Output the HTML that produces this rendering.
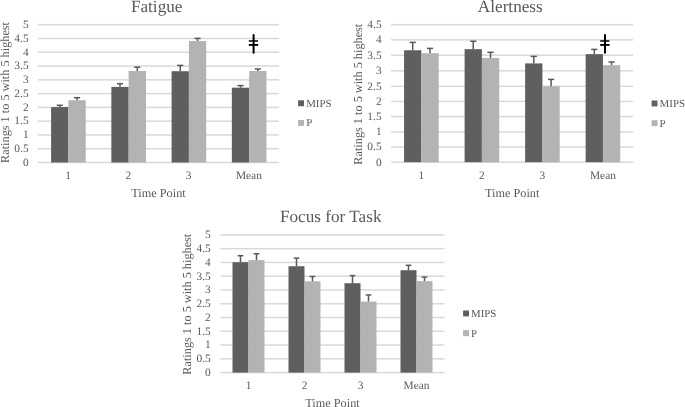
<!DOCTYPE html>
<html><head><meta charset="utf-8"><style>
html,body{margin:0;padding:0;background:#fff;}
body{width:685px;height:407px;overflow:hidden;}
svg{display:block;will-change:transform;filter:blur(0.3px);}
text{font-family:"Liberation Serif", serif;fill:#595959;text-rendering:geometricPrecision;}
</style></head><body>
<svg width="685" height="407" viewBox="0 0 685 407">
<rect width="685" height="407" fill="#fff"/>
<rect x="38.00" y="161.75" width="241.00" height="1.5" fill="#d9d9d9"/>
<rect x="38.00" y="147.97" width="241.00" height="1.5" fill="#d9d9d9"/>
<rect x="38.00" y="134.19" width="241.00" height="1.5" fill="#d9d9d9"/>
<rect x="38.00" y="120.41" width="241.00" height="1.5" fill="#d9d9d9"/>
<rect x="38.00" y="106.63" width="241.00" height="1.5" fill="#d9d9d9"/>
<rect x="38.00" y="92.85" width="241.00" height="1.5" fill="#d9d9d9"/>
<rect x="38.00" y="79.07" width="241.00" height="1.5" fill="#d9d9d9"/>
<rect x="38.00" y="65.29" width="241.00" height="1.5" fill="#d9d9d9"/>
<rect x="38.00" y="51.51" width="241.00" height="1.5" fill="#d9d9d9"/>
<rect x="38.00" y="37.73" width="241.00" height="1.5" fill="#d9d9d9"/>
<rect x="38.00" y="23.95" width="241.00" height="1.5" fill="#d9d9d9"/>
<text x="28.60" y="165.80" font-size="11.4" text-anchor="end">0</text>
<text x="28.60" y="152.02" font-size="11.4" text-anchor="end">0.5</text>
<text x="28.60" y="138.24" font-size="11.4" text-anchor="end">1</text>
<text x="28.60" y="124.46" font-size="11.4" text-anchor="end">1.5</text>
<text x="28.60" y="110.68" font-size="11.4" text-anchor="end">2</text>
<text x="28.60" y="96.90" font-size="11.4" text-anchor="end">2.5</text>
<text x="28.60" y="83.12" font-size="11.4" text-anchor="end">3</text>
<text x="28.60" y="69.34" font-size="11.4" text-anchor="end">3.5</text>
<text x="28.60" y="55.56" font-size="11.4" text-anchor="end">4</text>
<text x="28.60" y="41.78" font-size="11.4" text-anchor="end">4.5</text>
<text x="28.60" y="28.00" font-size="11.4" text-anchor="end">5</text>
<rect x="51.10" y="107.10" width="17.30" height="55.40" fill="#5f5f5f"/>
<rect x="68.40" y="100.20" width="17.30" height="62.30" fill="#b3b3b3"/>
<rect x="59.00" y="105.30" width="1.5" height="1.80" fill="#595959"/>
<rect x="56.65" y="104.55" width="6.20" height="1.5" fill="#595959"/>
<rect x="76.30" y="97.70" width="1.5" height="2.50" fill="#595959"/>
<rect x="73.95" y="96.95" width="6.20" height="1.5" fill="#595959"/>
<text x="68.12" y="178.60" font-size="11.4" text-anchor="middle">1</text>
<rect x="111.35" y="86.90" width="17.30" height="75.60" fill="#5f5f5f"/>
<rect x="128.65" y="71.00" width="17.30" height="91.50" fill="#b3b3b3"/>
<rect x="119.25" y="83.70" width="1.5" height="3.20" fill="#595959"/>
<rect x="116.90" y="82.95" width="6.20" height="1.5" fill="#595959"/>
<rect x="136.55" y="67.20" width="1.5" height="3.80" fill="#595959"/>
<rect x="134.20" y="66.45" width="6.20" height="1.5" fill="#595959"/>
<text x="128.38" y="178.60" font-size="11.4" text-anchor="middle">2</text>
<rect x="171.60" y="71.20" width="17.30" height="91.30" fill="#5f5f5f"/>
<rect x="188.90" y="41.05" width="17.30" height="121.45" fill="#b3b3b3"/>
<rect x="179.50" y="65.40" width="1.5" height="5.80" fill="#595959"/>
<rect x="177.15" y="64.65" width="6.20" height="1.5" fill="#595959"/>
<rect x="196.80" y="38.40" width="1.5" height="2.65" fill="#595959"/>
<rect x="194.45" y="37.65" width="6.20" height="1.5" fill="#595959"/>
<text x="188.62" y="178.60" font-size="11.4" text-anchor="middle">3</text>
<rect x="231.85" y="87.70" width="17.30" height="74.80" fill="#5f5f5f"/>
<rect x="249.15" y="71.00" width="17.30" height="91.50" fill="#b3b3b3"/>
<rect x="239.75" y="85.60" width="1.5" height="2.10" fill="#595959"/>
<rect x="237.40" y="84.85" width="6.20" height="1.5" fill="#595959"/>
<rect x="257.05" y="69.00" width="1.5" height="2.00" fill="#595959"/>
<rect x="254.70" y="68.25" width="6.20" height="1.5" fill="#595959"/>
<text x="248.88" y="178.60" font-size="11.4" text-anchor="middle">Mean</text>
<text x="156.70" y="11.90" font-size="17.2" text-anchor="middle">Fatigue</text>
<text x="158.50" y="196.60" font-size="12.25" text-anchor="middle">Time Point</text>
<text transform="translate(9.00,92.45) rotate(-90)" x="0" y="0" font-size="12.25" text-anchor="middle">Ratings 1 to 5 with 5 highest</text>
<rect x="298.10" y="100.30" width="5.9" height="5.9" fill="#5f5f5f"/>
<rect x="298.10" y="120.00" width="5.9" height="5.9" fill="#b3b3b3"/>
<text x="306.20" y="106.70" font-size="10.9">MIPS</text>
<text x="306.20" y="126.40" font-size="10.9">P</text>
<g stroke="#000" fill="none"><line x1="253.60" y1="35.00" x2="253.60" y2="52.80" stroke-width="2" stroke-linecap="round"/><line x1="248.80" y1="41.00" x2="258.00" y2="41.00" stroke-width="1.5"/><line x1="248.80" y1="44.90" x2="258.20" y2="44.90" stroke-width="1.9"/></g>
<rect x="391.10" y="161.45" width="242.10" height="1.5" fill="#d9d9d9"/>
<rect x="391.10" y="146.25" width="242.10" height="1.5" fill="#d9d9d9"/>
<rect x="391.10" y="131.25" width="242.10" height="1.5" fill="#d9d9d9"/>
<rect x="391.10" y="115.85" width="242.10" height="1.5" fill="#d9d9d9"/>
<rect x="391.10" y="100.65" width="242.10" height="1.5" fill="#d9d9d9"/>
<rect x="391.10" y="85.55" width="242.10" height="1.5" fill="#d9d9d9"/>
<rect x="391.10" y="70.05" width="242.10" height="1.5" fill="#d9d9d9"/>
<rect x="391.10" y="54.45" width="242.10" height="1.5" fill="#d9d9d9"/>
<rect x="391.10" y="39.10" width="242.10" height="1.5" fill="#d9d9d9"/>
<rect x="391.10" y="23.95" width="242.10" height="1.5" fill="#d9d9d9"/>
<text x="381.60" y="165.50" font-size="11.4" text-anchor="end">0</text>
<text x="381.60" y="150.30" font-size="11.4" text-anchor="end">0.5</text>
<text x="381.60" y="135.30" font-size="11.4" text-anchor="end">1</text>
<text x="381.60" y="119.90" font-size="11.4" text-anchor="end">1.5</text>
<text x="381.60" y="104.70" font-size="11.4" text-anchor="end">2</text>
<text x="381.60" y="89.60" font-size="11.4" text-anchor="end">2.5</text>
<text x="381.60" y="74.10" font-size="11.4" text-anchor="end">3</text>
<text x="381.60" y="58.50" font-size="11.4" text-anchor="end">3.5</text>
<text x="381.60" y="43.15" font-size="11.4" text-anchor="end">4</text>
<text x="381.60" y="28.00" font-size="11.4" text-anchor="end">4.5</text>
<rect x="404.07" y="50.25" width="17.29" height="111.95" fill="#5f5f5f"/>
<rect x="421.36" y="53.20" width="17.29" height="109.00" fill="#b3b3b3"/>
<rect x="411.97" y="42.40" width="1.5" height="7.85" fill="#595959"/>
<rect x="409.62" y="41.65" width="6.20" height="1.5" fill="#595959"/>
<rect x="429.26" y="48.40" width="1.5" height="4.80" fill="#595959"/>
<rect x="426.91" y="47.65" width="6.20" height="1.5" fill="#595959"/>
<text x="421.36" y="178.60" font-size="11.4" text-anchor="middle">1</text>
<rect x="464.60" y="49.15" width="17.29" height="113.05" fill="#5f5f5f"/>
<rect x="481.89" y="58.00" width="17.29" height="104.20" fill="#b3b3b3"/>
<rect x="472.49" y="41.26" width="1.5" height="7.89" fill="#595959"/>
<rect x="470.14" y="40.51" width="6.20" height="1.5" fill="#595959"/>
<rect x="489.78" y="52.30" width="1.5" height="5.70" fill="#595959"/>
<rect x="487.43" y="51.55" width="6.20" height="1.5" fill="#595959"/>
<text x="481.89" y="178.60" font-size="11.4" text-anchor="middle">2</text>
<rect x="525.12" y="63.40" width="17.29" height="98.80" fill="#5f5f5f"/>
<rect x="542.41" y="86.30" width="17.29" height="75.90" fill="#b3b3b3"/>
<rect x="533.02" y="56.40" width="1.5" height="7.00" fill="#595959"/>
<rect x="530.67" y="55.65" width="6.20" height="1.5" fill="#595959"/>
<rect x="550.31" y="79.40" width="1.5" height="6.90" fill="#595959"/>
<rect x="547.96" y="78.65" width="6.20" height="1.5" fill="#595959"/>
<text x="542.41" y="178.60" font-size="11.4" text-anchor="middle">3</text>
<rect x="585.65" y="54.15" width="17.29" height="108.05" fill="#5f5f5f"/>
<rect x="602.94" y="65.20" width="17.29" height="97.00" fill="#b3b3b3"/>
<rect x="593.54" y="49.40" width="1.5" height="4.75" fill="#595959"/>
<rect x="591.19" y="48.65" width="6.20" height="1.5" fill="#595959"/>
<rect x="610.83" y="62.00" width="1.5" height="3.20" fill="#595959"/>
<rect x="608.48" y="61.25" width="6.20" height="1.5" fill="#595959"/>
<text x="602.94" y="178.60" font-size="11.4" text-anchor="middle">Mean</text>
<text x="510.30" y="12.00" font-size="17.2" text-anchor="middle">Alertness</text>
<text x="512.15" y="196.80" font-size="12.25" text-anchor="middle">Time Point</text>
<text transform="translate(361.90,94.20) rotate(-90)" x="0" y="0" font-size="12.25" text-anchor="middle">Ratings 1 to 5 with 5 highest</text>
<rect x="651.60" y="100.50" width="5.9" height="5.9" fill="#5f5f5f"/>
<rect x="651.60" y="120.20" width="5.9" height="5.9" fill="#b3b3b3"/>
<text x="659.60" y="106.90" font-size="10.9">MIPS</text>
<text x="659.60" y="126.60" font-size="10.9">P</text>
<g stroke="#000" fill="none"><line x1="605.00" y1="35.00" x2="605.00" y2="52.80" stroke-width="2" stroke-linecap="round"/><line x1="600.20" y1="41.00" x2="609.40" y2="41.00" stroke-width="1.5"/><line x1="600.20" y1="44.90" x2="609.60" y2="44.90" stroke-width="1.9"/></g>
<rect x="220.50" y="371.85" width="224.00" height="1.5" fill="#d9d9d9"/>
<rect x="220.50" y="358.08" width="224.00" height="1.5" fill="#d9d9d9"/>
<rect x="220.50" y="344.31" width="224.00" height="1.5" fill="#d9d9d9"/>
<rect x="220.50" y="330.54" width="224.00" height="1.5" fill="#d9d9d9"/>
<rect x="220.50" y="316.77" width="224.00" height="1.5" fill="#d9d9d9"/>
<rect x="220.50" y="303.00" width="224.00" height="1.5" fill="#d9d9d9"/>
<rect x="220.50" y="289.23" width="224.00" height="1.5" fill="#d9d9d9"/>
<rect x="220.50" y="275.46" width="224.00" height="1.5" fill="#d9d9d9"/>
<rect x="220.50" y="261.69" width="224.00" height="1.5" fill="#d9d9d9"/>
<rect x="220.50" y="247.92" width="224.00" height="1.5" fill="#d9d9d9"/>
<rect x="220.50" y="234.15" width="224.00" height="1.5" fill="#d9d9d9"/>
<text x="210.80" y="375.90" font-size="11.4" text-anchor="end">0</text>
<text x="210.80" y="362.13" font-size="11.4" text-anchor="end">0.5</text>
<text x="210.80" y="348.36" font-size="11.4" text-anchor="end">1</text>
<text x="210.80" y="334.59" font-size="11.4" text-anchor="end">1.5</text>
<text x="210.80" y="320.82" font-size="11.4" text-anchor="end">2</text>
<text x="210.80" y="307.05" font-size="11.4" text-anchor="end">2.5</text>
<text x="210.80" y="293.28" font-size="11.4" text-anchor="end">3</text>
<text x="210.80" y="279.51" font-size="11.4" text-anchor="end">3.5</text>
<text x="210.80" y="265.74" font-size="11.4" text-anchor="end">4</text>
<text x="210.80" y="251.97" font-size="11.4" text-anchor="end">4.5</text>
<text x="210.80" y="238.20" font-size="11.4" text-anchor="end">5</text>
<rect x="232.50" y="262.20" width="16.00" height="110.40" fill="#5f5f5f"/>
<rect x="248.50" y="260.10" width="16.00" height="112.50" fill="#b3b3b3"/>
<rect x="239.75" y="255.70" width="1.5" height="6.50" fill="#595959"/>
<rect x="237.70" y="254.95" width="5.60" height="1.5" fill="#595959"/>
<rect x="255.75" y="253.80" width="1.5" height="6.30" fill="#595959"/>
<rect x="253.70" y="253.05" width="5.60" height="1.5" fill="#595959"/>
<text x="248.50" y="388.70" font-size="11.4" text-anchor="middle">1</text>
<rect x="288.50" y="266.20" width="16.00" height="106.40" fill="#5f5f5f"/>
<rect x="304.50" y="281.30" width="16.00" height="91.30" fill="#b3b3b3"/>
<rect x="295.75" y="258.10" width="1.5" height="8.10" fill="#595959"/>
<rect x="293.70" y="257.35" width="5.60" height="1.5" fill="#595959"/>
<rect x="311.75" y="276.50" width="1.5" height="4.80" fill="#595959"/>
<rect x="309.70" y="275.75" width="5.60" height="1.5" fill="#595959"/>
<text x="304.50" y="388.70" font-size="11.4" text-anchor="middle">2</text>
<rect x="344.50" y="283.20" width="16.00" height="89.40" fill="#5f5f5f"/>
<rect x="360.50" y="301.60" width="16.00" height="71.00" fill="#b3b3b3"/>
<rect x="351.75" y="275.60" width="1.5" height="7.60" fill="#595959"/>
<rect x="349.70" y="274.85" width="5.60" height="1.5" fill="#595959"/>
<rect x="367.75" y="295.00" width="1.5" height="6.60" fill="#595959"/>
<rect x="365.70" y="294.25" width="5.60" height="1.5" fill="#595959"/>
<text x="360.50" y="388.70" font-size="11.4" text-anchor="middle">3</text>
<rect x="400.50" y="270.20" width="16.00" height="102.40" fill="#5f5f5f"/>
<rect x="416.50" y="281.10" width="16.00" height="91.50" fill="#b3b3b3"/>
<rect x="407.75" y="265.30" width="1.5" height="4.90" fill="#595959"/>
<rect x="405.70" y="264.55" width="5.60" height="1.5" fill="#595959"/>
<rect x="423.75" y="277.10" width="1.5" height="4.00" fill="#595959"/>
<rect x="421.70" y="276.35" width="5.60" height="1.5" fill="#595959"/>
<text x="416.50" y="388.70" font-size="11.4" text-anchor="middle">Mean</text>
<text x="330.70" y="222.20" font-size="17.2" text-anchor="middle">Focus for Task</text>
<text x="332.50" y="406.60" font-size="12.25" text-anchor="middle">Time Point</text>
<text transform="translate(191.20,304.20) rotate(-90)" x="0" y="0" font-size="12.25" text-anchor="middle">Ratings 1 to 5 with 5 highest</text>
<rect x="463.10" y="310.50" width="5.9" height="5.9" fill="#5f5f5f"/>
<rect x="463.10" y="330.20" width="5.9" height="5.9" fill="#b3b3b3"/>
<text x="471.00" y="316.90" font-size="10.9">MIPS</text>
<text x="471.00" y="336.60" font-size="10.9">P</text>
</svg>
</body></html>
